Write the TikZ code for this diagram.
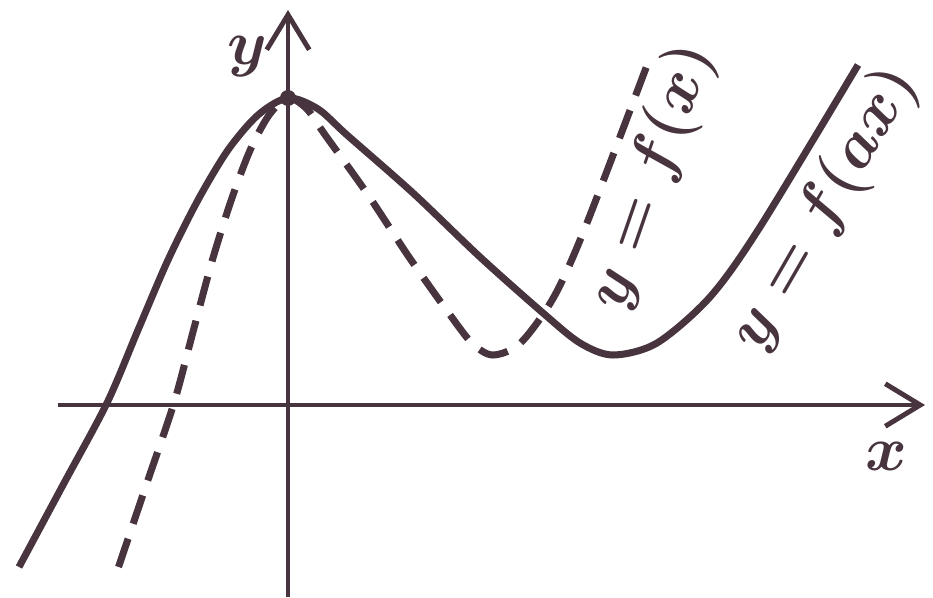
\documentclass[tikz,border=0pt]{standalone}
\usepackage{amsmath}
\usetikzlibrary{arrows.meta}
\definecolor{ink}{RGB}{72,52,62}
\tikzset{
  >={Straight Barb[length=0.7cm,width=0.85cm]},
  axis/.style={draw=ink, line width=2.8pt, ->},
  graph/.style={draw=ink, line width=4pt},
  dashgraph/.style={graph, dash pattern=on 17pt off 9pt},
  lbl/.style={text=ink, font=\Huge\boldmath, scale=1.45, inner sep=0pt},
}

\begin{document}
\begin{tikzpicture}[x=0.02cm, y=0.02cm]
  \useasboundingbox (-288,-193) rectangle (645,405);
  % axes
  \coordinate (xs) at (-230,0);
  \coordinate (xe) at (637,0);
  \coordinate (ys) at (0,-192);
  \coordinate (ye) at (0,395);
  \draw[axis] (xs) -- (xe);
  \draw[axis] (ys) -- (ye);
  \node[lbl] (xl) at (598,-51) {$x$};
  \node[lbl] (yl) at (-41,348) {$y$};
  % y = f(ax) and y = f(x): same points, squeezed by a
  \foreach \a/\sty in {1/graph, 0.63/dashgraph}
    \draw[\sty, xscale=\a] plot[smooth] coordinates {
      (-269,-162) (-225,-80) (-181,2) (-150,75) (-120,145) (-90,205)
      (-60,255) (-30,290) (0,307) (30,296) (59,270) (125,212) (192,148)
      (255,92) (292,62) (325,50) (369,62) (422,108) (472,178) (570,340)};
  \node[circle, fill=ink, inner sep=0pt, minimum size=0.32cm] (top) at (0,307) {};
  \node[lbl, rotate=71] (fx)  at (364,228) {$y = f(x)$};
  \node[lbl, rotate=60] (fax) at (537,196) {$y = f(ax)$};
\end{tikzpicture}
\end{document}
